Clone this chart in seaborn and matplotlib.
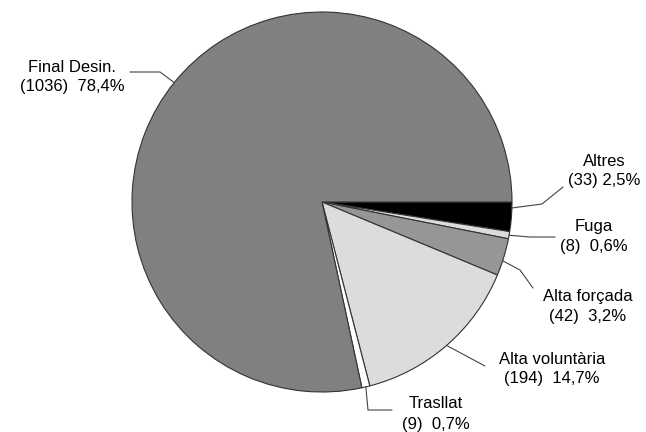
import numpy as np
import matplotlib
matplotlib.use("Agg")
import matplotlib.pyplot as plt
import seaborn as sns

# data, clockwise from 3 o'clock
labels = ["Altres", "Fuga", "Alta forçada", "Alta voluntària", "Trasllat", "Final Desin."]
counts = [33, 8, 42, 194, 9, 1036]
colors = ["#000000", "#dcdcdc", "#969696", "#dcdcdc", "#ffffff", "#808080"]
gaps = [" ", "  ", "  ", "  ", "  ", "  "]

# layout in pixels (origin top-left): anchor fraction inside wedge, elbow, line end, text centre
anchor_frac = [0.2, 0.5, 0.6, 0.5, 0.5, 0.5]
elbows = [(542, 204), (530, 237), (520, 270), (470, 358), (368, 410), (160, 72)]
ends = [(563, 187), (555, 237), (533, 288), (485, 366), (392, 410), (130, 72)]
text_pos = [(604, 161), (594, 227), (588, 296), (552, 359), (436, 404), (72, 67)]

W, H = 646, 432
cx, cy, R = 322, 202, 190

sns.set_theme(style="white")
plt.rcParams["font.family"] = ["Liberation Sans", "DejaVu Sans"]

fig = plt.figure(figsize=(W / 100, H / 100), dpi=100)
ax = fig.add_axes([0, 0, 1, 1])

ax.pie(counts, colors=colors, startangle=0, counterclock=False, radius=1,
       wedgeprops=dict(edgecolor="#333333", linewidth=0.8))

# pie() resets the limits, so set them afterwards
ax.set_xlim(-cx / R, (W - cx) / R)
ax.set_ylim((cy - H) / R, cy / R)
ax.set_aspect("equal")
ax.axis("off")


def px(p):
    return ((p[0] - cx) / R, (cy - p[1]) / R)


total = sum(counts)
cum = np.cumsum([0] + counts)
for i, lab in enumerate(labels):
    frac = (cum[i] + anchor_frac[i] * counts[i]) / total
    ang = -2 * np.pi * frac
    a = (np.cos(ang), np.sin(ang))
    e = px(elbows[i])
    f = px(ends[i])
    ax.plot([a[0], e[0], f[0]], [a[1], e[1], f[1]], color="#444444", lw=0.8)
    pct = f"{100 * counts[i] / total:.1f}".replace(".", ",")
    tx, ty = px(text_pos[i])
    ax.text(tx, ty, lab, ha="center", va="center", fontsize=12, color="black")
    ax.text(tx, ty - 20 / R, f"({counts[i]}){gaps[i]}{pct}%", ha="center", va="center",
            fontsize=12, color="black")

fig.savefig("out.png", dpi=100)
